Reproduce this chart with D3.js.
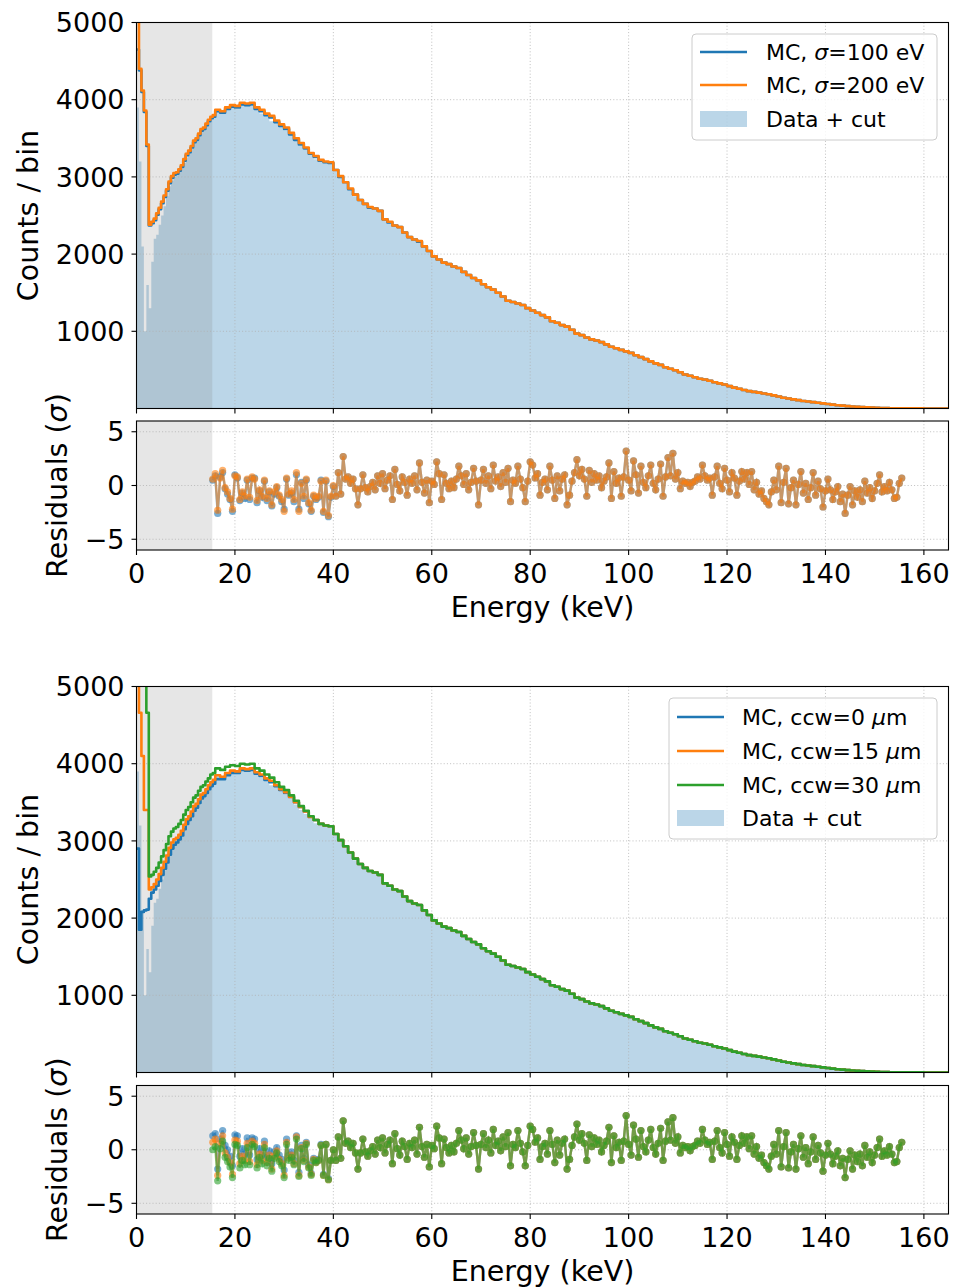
<!DOCTYPE html>
<html><head><meta charset="utf-8">
<script src="https://cdn.jsdelivr.net/npm/d3@7"></script>
<style>body{margin:0;background:#fff} svg{display:block;font-family:"DejaVu Sans",sans-serif}</style>
</head><body><svg id="c" width="958" height="1288"></svg>
<script>
// ---------------- DATA ----------------
// bin edges (keV): 0.5 keV bins below 16 keV, 1 keV bins above
const binEdges = d3.range(0, 16, 0.5).concat(d3.range(16, 166, 1));
const xTickValues = [0, 20, 40, 60, 80, 100, 120, 140, 160];
const countTickValues = [1000, 2000, 3000, 4000, 5000];
const residTickValues = [-5, 0, 5];
const cutEnergy = 15.4;

// Data + cut histogram (counts / bin)
const dataCounts = [
 3900,3200,2100,1000,1600,1300,1900,2200,2250,2380,2500,2620,2750,2880,2950,3000,
 3030,3080,3110,3180,3250,3320,3360,3440,3470,3540,3600,3610,3680,3700,3760,3780,
 3840,3830,3880,3900,3880,3930,3940,3920,3870,3820,3790,3720,3700,3660,3600,3550,3470,3400,3350,3290,
 3230,3200,3180,3180,3070,3000,2910,2840,2750,2690,2640,2600,2570,2550,2440,2400,2360,2330,2270,2210,
 2180,2150,2090,2030,1960,1930,1880,1860,1830,1810,1760,1720,1690,1650,1600,1570,1530,1490,1440,1390,
 1370,1350,1340,1300,1260,1240,1200,1170,1130,1100,1080,1050,1010,970,950,920,890,880,855,830,
 800,780,760,745,720,690,665,640,610,585,565,535,515,495,470,440,425,405,385,375,
 360,340,325,310,290,270,255,240,225,215,205,195,185,170,155,140,130,118,108,98,
 90,82,74,66,58,50,43,37,31,26,22,18,15,12,9,7,5,4,3,2,2,1,1,1,0,0,0,0,0
];

// Top panel MC curves
const mcSigma200 = [
 5600,4400,4120,3860,3420,2380,2420,2460,2530,2600,2680,2760,2840,2940,3010,3050,
 3060,3100,3150,3230,3300,3340,3400,3470,3500,3560,3620,3640,3690,3740,3780,3800,
 3870,3850,3900,3930,3920,3960,3950,3960,3900,3870,3820,3790,3730,3680,3640,3570,3500,3440,3380,3310,
 3270,3220,3200,3190,3090,3010,2930,2850,2770,2700,2650,2610,2590,2560,2450,2420,2370,2350,2280,2220,
 2190,2170,2100,2040,1970,1930,1890,1870,1840,1820,1770,1730,1690,1660,1610,1570,1540,1500,1450,1395,
 1380,1360,1340,1300,1270,1240,1210,1180,1130,1110,1080,1060,1020,970,950,920,895,880,860,830,
 800,780,760,740,720,690,665,640,610,585,565,535,515,495,470,440,425,405,385,375,
 360,340,325,310,290,270,255,240,225,215,205,195,185,170,155,140,130,118,108,98,
 90,82,74,66,58,50,43,37,31,26,22,18,15,12,9,7,5,4,3,2,2,1,1,1,0,0,0,0,0
];
const mcSigma100 = [
 4650,4380,4100,3840,3400,2370,2400,2440,2510,2580,2660,2740,2820,2920,2990,3030,
 3040,3080,3130,3210,3280,3320,3380,3450,3480,3540,3600,3620,3670,3720,3760,3780,
 3850,3830,3880,3910,3900,3940,3930,3940,3880,3850,3800,3770,3710,3660,3620,3550,3480,3420,3370,3300,
 3260,3210,3190,3180,3090,3000,2930,2840,2770,2700,2650,2600,2590,2560,2450,2410,2370,2350,2280,2220,
 2190,2160,2100,2040,1970,1930,1890,1870,1840,1820,1770,1730,1690,1660,1610,1570,1540,1500,1450,1395,
 1380,1360,1340,1300,1270,1240,1210,1180,1130,1110,1080,1060,1020,970,950,920,895,880,860,830,
 800,780,760,740,720,690,665,640,610,585,565,535,515,495,470,440,425,405,385,375,
 360,340,325,310,290,270,255,240,225,215,205,195,185,170,155,140,130,118,108,98,
 90,82,74,66,58,50,43,37,31,26,22,18,15,12,9,7,5,4,3,2,2,1,1,1,0,0,0,0,0
];

// Bottom panel MC curves
const mcCcw0 = [
 2900,1850,2080,2100,2110,2250,2330,2370,2420,2480,2560,2640,2720,2820,2900,2950,
 2980,3020,3070,3150,3220,3270,3320,3390,3430,3490,3550,3580,3620,3670,3710,3740,
 3800,3800,3850,3880,3880,3920,3910,3920,3870,3840,3790,3760,3710,3660,3620,3570,3500,3440,3380,3310,
 3270,3220,3200,3190,3090,3010,2930,2850,2770,2700,2650,2610,2590,2560,2450,2420,2370,2350,2280,2220,
 2190,2170,2100,2040,1970,1930,1890,1870,1840,1820,1770,1730,1690,1660,1610,1570,1540,1500,1450,1395,
 1380,1360,1340,1300,1270,1240,1210,1180,1130,1110,1080,1060,1020,970,950,920,895,880,860,830,
 800,780,760,740,720,690,665,640,610,585,565,535,515,495,470,440,425,405,385,375,
 360,340,325,310,290,270,255,240,225,215,205,195,185,170,155,140,130,118,108,98,
 90,82,74,66,58,50,43,37,31,26,22,18,15,12,9,7,5,4,3,2,2,1,1,1,0,0,0,0,0
];
const mcCcw15 = [
 5600,4660,4100,3400,3400,2370,2400,2440,2500,2570,2650,2730,2810,2910,2980,3020,
 3040,3080,3130,3210,3280,3320,3380,3450,3480,3540,3600,3620,3670,3720,3760,3790,
 3850,3830,3880,3910,3900,3940,3930,3940,3890,3860,3810,3780,3720,3670,3630,3570,3500,3440,3380,3310,
 3270,3220,3200,3190,3090,3010,2930,2850,2770,2700,2650,2610,2590,2560,2450,2420,2370,2350,2280,2220,
 2190,2170,2100,2040,1970,1930,1890,1870,1840,1820,1770,1730,1690,1660,1610,1570,1540,1500,1450,1395,
 1380,1360,1340,1300,1270,1240,1210,1180,1130,1110,1080,1060,1020,970,950,920,895,880,860,830,
 800,780,760,740,720,690,665,640,610,585,565,535,515,495,470,440,425,405,385,375,
 360,340,325,310,290,270,255,240,225,215,205,195,185,170,155,140,130,118,108,98,
 90,82,74,66,58,50,43,37,31,26,22,18,15,12,9,7,5,4,3,2,2,1,1,1,0,0,0,0,0
];
const mcCcw30 = [
 6000,6000,6000,6000,4660,2540,2560,2600,2650,2720,2800,2880,2960,3060,3120,3160,
 3180,3220,3270,3340,3400,3440,3500,3560,3590,3650,3700,3720,3770,3810,3860,3880,
 3940,3920,3960,3980,3970,4000,3990,4000,3940,3910,3860,3820,3760,3700,3660,3590,3520,3450,3390,3320,
 3270,3220,3200,3190,3090,3010,2930,2850,2770,2700,2650,2610,2590,2560,2450,2420,2370,2350,2280,2220,
 2190,2170,2100,2040,1970,1930,1890,1870,1840,1820,1770,1730,1690,1660,1610,1570,1540,1500,1450,1395,
 1380,1360,1340,1300,1270,1240,1210,1180,1130,1110,1080,1060,1020,970,950,920,895,880,860,830,
 800,780,760,740,720,690,665,640,610,585,565,535,515,495,470,440,425,405,385,375,
 360,340,325,310,290,270,255,240,225,215,205,195,185,170,155,140,130,118,108,98,
 90,82,74,66,58,50,43,37,31,26,22,18,15,12,9,7,5,4,3,2,2,1,1,1,0,0,0,0,0
];

// Residual energies (keV) and residuals (sigma): 15.5 .. 155.5 every 0.5 keV
const residEnergy = d3.range(15.5, 155.75, 0.5);
// 15.5 .. 40.0 keV, per series
const residHeadSigma100 = [0.5,0.9,-2.6,0.8,1.2,-0.3,-0.8,-1.3,-2.4,1.0, 0.7,-1.4,-0.7,-1.2,0.5,-1.3,0.7,0.7,-1.6,-0.5,
 -1.1,0.4,-1.4,-0.6,-1.9,-0.8,-0.2,-1.0,-1.5,-2.2, 0.6,-0.9,-0.7,-1.5,1.0,-2.2,0.3,-1.2,0.5,-1.7,
 -2.4,-1.0,-1.3,-1.1,0.5,-2.5,0.4,-2.9,-1.1,-0.1];
const residHeadSigma200 = [0.6,1.1,-2.3,0.7,1.4,-0.2,-0.6,-1.2,-2.2,0.9, 0.8,-1.3,-0.6,-1.0,0.6,-1.1,0.8,0.6,-1.4,-0.4,
 -1.0,0.5,-1.2,-0.5,-1.8,-0.6,-0.1,-0.9,-1.3,-2.4, 0.7,-0.8,-0.5,-1.3,1.2,-2.4,0.2,-1.0,0.6,-1.6,
 -2.3,-0.9,-1.2,-1.0,0.4,-2.4,0.5,-2.8,-1.0,0.0];
const residHeadCcw0 = [1.3,1.5,-1.8,1.0,1.8,0.4,0.0,-0.6,-1.5,1.4, 1.3,-0.6,0.1,-0.4,1.1,-0.5,1.1,1.0,-0.9,0.1,
 -0.5,0.8,-0.7,-0.1,-1.3,-0.2,0.2,-0.5,-0.9,-1.9, 1.0,-0.5,-0.2,-1.0,1.3,-2.1,0.4,-0.8,0.7,-1.4,
 -2.2,-0.8,-1.1,-0.9,0.5,-2.3,0.5,-2.7,-1.0,0.0];
const residHeadCcw15 = [0.7,1.0,-2.4,0.6,1.3,-0.3,-0.7,-1.2,-2.3,0.9, 0.8,-1.3,-0.6,-1.0,0.6,-1.1,0.8,0.6,-1.4,-0.4,
 -1.0,0.5,-1.2,-0.5,-1.8,-0.6,-0.1,-0.9,-1.3,-2.4, 0.7,-0.8,-0.5,-1.3,1.2,-2.4,0.2,-1.0,0.6,-1.6,
 -2.3,-0.9,-1.2,-1.0,0.4,-2.4,0.5,-2.8,-1.0,0.0];
const residHeadCcw30 = [0.0,0.3,-2.9,0.1,0.8,-0.7,-1.1,-1.6,-2.6,0.5, 0.4,-1.7,-1.0,-1.4,0.2,-1.4,0.5,0.3,-1.7,-0.7,
 -1.3,0.2,-1.5,-0.8,-2.0,-0.8,-0.3,-1.1,-1.5,-2.6, 0.5,-1.0,-0.7,-1.4,1.0,-2.5,0.1,-1.1,0.5,-1.7,
 -2.4,-1.0,-1.2,-1.0,0.4,-2.4,0.5,-2.8,-1.0,0.0];
// 40.5 .. 155.5 keV (same for all series)
const residTail = [
 -1.0,1.2,-0.8,2.7,0.6,0.8,0.2,0.6,-0.3,-1.8,
 -0.3,1.0,-0.2,-0.6,-0.1,0.3,-0.4,0.9,0.2,1.1, -0.3,0.5,0.9,-1.3,1.5,0.1,-0.5,0.8,0.3,-0.9,
 0.6,0.2,0.9,-0.4,2.1,0.3,-0.7,0.5,-1.6,0.4, 0.1,2.2,1.1,-1.3,1.0,0.2,-0.3,0.4,-0.2,0.6,
 1.8,0.9,0.1,1.1,-0.4,0.3,1.6,0.4,-1.8,0.5, 1.5,0.2,0.9,-0.3,1.9,0.4,0.8,-0.1,1.2,0.3,
 1.6,-1.5,0.5,0.2,1.8,0.6,-0.2,-1.5,0.4,2.2, 1.9,0.7,1.1,-0.9,0.3,0.6,-0.4,1.8,0.5,-1.2,
 0.9,-0.5,0.6,1.0,-1.8,-0.9,0.4,1.2,2.4,0.9, 1.5,0.6,-1.0,1.4,0.3,1.1,0.5,0.9,-0.2,0.4,
 0.8,2.1,-1.2,1.3,0.2,0.7,-1.0,0.8,3.2,0.5, -0.5,2.3,1.0,-0.7,1.8,0.3,-0.2,0.9,1.9,0.2,
 -0.4,0.6,2.0,-1.0,0.8,2.6,0.9,3.0,0.6,1.2, -0.3,0.4,0.2,0.3,-0.1,0.3,0.4,0.8,0.6,1.9,
 0.9,0.5,0.7,-0.9,0.8,1.8,0.2,-0.3,1.6,0.5, -0.6,1.2,0.7,-0.9,0.4,1.3,0.6,1.2,0.1,1.3,
 -0.4,0.3,-0.8,-0.5,-1.2,-1.5,-1.8,-0.6,0.5,-0.4, 1.8,-1.6,0.3,1.6,-1.7,-0.2,0.5,-1.8,0.1,1.3,
 -0.7,0.2,-1.3,-0.2,1.2,-0.9,0.4,-0.3,-2.0,-0.5, 0.6,-0.4,-1.3,-0.6,-0.1,-1.5,-0.8,-2.6,-0.9,-0.1,
 -1.8,-0.5,-1.1,-0.4,-1.5,0.4,-0.7,-0.2,-1.2,-0.5, 0.2,1.0,-0.6,-0.1,-0.5,0.3,-0.4,-1.2,-1.1,0.2,0.7
];

const seriesTop = [
  {label: ["MC, ", "σ", "=100 eV"], color: "#1f77b4", mc: mcSigma100, resid: residHeadSigma100.concat(residTail)},
  {label: ["MC, ", "σ", "=200 eV"], color: "#ff7f0e", mc: mcSigma200, resid: residHeadSigma200.concat(residTail)}
];
const seriesBottom = [
  {label: ["MC, ccw=0 ", "μ", "m"], color: "#1f77b4", mc: mcCcw0, resid: residHeadCcw0.concat(residTail)},
  {label: ["MC, ccw=15 ", "μ", "m"], color: "#ff7f0e", mc: mcCcw15, resid: residHeadCcw15.concat(residTail)},
  {label: ["MC, ccw=30 ", "μ", "m"], color: "#2ca02c", mc: mcCcw30, resid: residHeadCcw30.concat(residTail)}
];

// ---------------- DRAWING ----------------
const svg = d3.select("#c");
const X0 = 136.5, X1 = 948.5;
const x = d3.scaleLinear().domain([0, 165]).range([X0, X1]);
const TICK_FS = 27, LABEL_FS = 28.5, LEG_FS = 22;
let clipId = 0;

function stepPoints(vals) {
  const pts = vals.map((v, i) => [binEdges[i], v]);
  pts.push([binEdges[vals.length], vals[vals.length - 1]]);
  return pts;
}

function gridAndFrame(g, y, top, bot, yTicks) {
  const grid = g.append("g").attr("stroke", "#b0b0b0").attr("stroke-width", 0.8).attr("stroke-dasharray", "1,2.2");
  xTickValues.forEach(t => grid.append("line").attr("x1", x(t)).attr("x2", x(t)).attr("y1", top).attr("y2", bot));
  yTicks.forEach(t => grid.append("line").attr("x1", X0).attr("x2", X1).attr("y1", y(t)).attr("y2", y(t)));
}

function frameAndTicks(g, y, top, bot, yTicks, yFmt, xLabels) {
  g.append("rect").attr("x", X0).attr("y", top).attr("width", X1 - X0).attr("height", bot - top)
    .attr("fill", "none").attr("stroke", "#000").attr("stroke-width", 1.1);
  const tk = g.append("g").attr("stroke", "#000").attr("stroke-width", 1.1);
  xTickValues.forEach(t => tk.append("line").attr("x1", x(t)).attr("x2", x(t)).attr("y1", bot).attr("y2", bot + 5));
  yTicks.forEach(t => tk.append("line").attr("x1", X0 - 5).attr("x2", X0).attr("y1", y(t)).attr("y2", y(t)));
  yTicks.forEach(t => g.append("text").attr("x", X0 - 12).attr("y", y(t)).attr("dy", "0.36em")
    .attr("text-anchor", "end").attr("font-size", TICK_FS).text(yFmt(t)));
  if (xLabels) {
    xTickValues.forEach(t => g.append("text").attr("x", x(t)).attr("y", bot + 33)
      .attr("text-anchor", "middle").attr("font-size", TICK_FS).text(t));
  }
}

function clipRect(top, bot) {
  const id = "clip" + (clipId++);
  svg.append("clipPath").attr("id", id).append("rect")
    .attr("x", X0).attr("y", top).attr("width", X1 - X0).attr("height", bot - top);
  return "url(#" + id + ")";
}

function drawPanel(cfg) {
  const {mainTop, mainBot, resTop, resBot, series, legend} = cfg;
  // ---- main histogram ----
  const y = d3.scaleLinear().domain([0, 5000]).range([mainBot, mainTop]);
  const g = svg.append("g");
  const clip = clipRect(mainTop, mainBot);
  const area = d3.area().x(d => x(d[0])).y0(y(0)).y1(d => y(d[1])).curve(d3.curveStepAfter);
  g.append("path").attr("clip-path", clip).attr("d", area(stepPoints(dataCounts)))
    .attr("fill", "#1f77b4").attr("fill-opacity", 0.3);
  g.append("rect").attr("x", x(0)).attr("y", mainTop).attr("width", x(cutEnergy) - x(0)).attr("height", mainBot - mainTop)
    .attr("fill", "#808080").attr("fill-opacity", 0.2);
  gridAndFrame(g, y, mainTop, mainBot, countTickValues);
  const line = d3.line().x(d => x(d[0])).y(d => y(d[1])).curve(d3.curveStepAfter);
  series.forEach(s => g.append("path").attr("clip-path", clip).attr("d", line(stepPoints(s.mc)))
    .attr("fill", "none").attr("stroke", s.color).attr("stroke-width", 2.6).attr("stroke-linejoin", "round"));
  frameAndTicks(g, y, mainTop, mainBot, countTickValues, d => d, false);
  g.append("text").attr("transform", `translate(${cfg.yLabX},${(mainTop + mainBot) / 2}) rotate(-90)`)
    .attr("text-anchor", "middle").attr("font-size", LABEL_FS).text("Counts / bin");

  // ---- legend ----
  const L = legend;
  const lg = g.append("g");
  lg.append("rect").attr("x", L.x).attr("y", L.y).attr("width", L.w).attr("height", L.h).attr("rx", 4)
    .attr("fill", "#fff").attr("fill-opacity", 0.8).attr("stroke", "#cccccc").attr("stroke-width", 1);
  series.forEach((s, i) => {
    const cy = L.rows[i];
    lg.append("line").attr("x1", L.hx).attr("x2", L.hx + 47).attr("y1", cy).attr("y2", cy)
      .attr("stroke", s.color).attr("stroke-width", 2.4);
    const t = lg.append("text").attr("x", L.tx).attr("y", cy).attr("dy", "0.36em").attr("font-size", LEG_FS);
    t.append("tspan").text(s.label[0]);
    t.append("tspan").attr("font-style", "italic").text(s.label[1]);
    t.append("tspan").text(s.label[2]);
  });
  const dy = L.rows[series.length];
  lg.append("rect").attr("x", L.hx).attr("y", dy - 8).attr("width", 47).attr("height", 16)
    .attr("fill", "#1f77b4").attr("fill-opacity", 0.3);
  lg.append("text").attr("x", L.tx).attr("y", dy).attr("dy", "0.36em").attr("font-size", LEG_FS).text("Data + cut");

  // ---- residuals ----
  const yr = d3.scaleLinear().domain([-6, 6]).range([resBot, resTop]);
  const gr = svg.append("g");
  const rclip = clipRect(resTop, resBot);
  gr.append("rect").attr("x", x(0)).attr("y", resTop).attr("width", x(cutEnergy) - x(0)).attr("height", resBot - resTop)
    .attr("fill", "#808080").attr("fill-opacity", 0.2);
  gridAndFrame(gr, yr, resTop, resBot, residTickValues);
  const rline = d3.line().x(d => x(d[0])).y(d => yr(d[1]));
  series.forEach(s => {
    const pts = residEnergy.map((e, i) => [e, s.resid[i]]);
    const sg = gr.append("g").attr("clip-path", rclip);
    sg.append("path").attr("d", rline(pts)).attr("fill", "none").attr("stroke", s.color)
      .attr("stroke-opacity", 0.55).attr("stroke-width", 2.4);
    sg.selectAll("circle").data(pts).join("circle").attr("cx", d => x(d[0])).attr("cy", d => yr(d[1]))
      .attr("r", 3.6).attr("fill", s.color).attr("fill-opacity", 0.6);
  });
  frameAndTicks(gr, yr, resTop, resBot, residTickValues, d => d < 0 ? "\u2212" + Math.abs(d) : String(d), true);
  gr.append("text").attr("transform", `translate(${cfg.rLabX},${(resTop + resBot) / 2}) rotate(-90)`)
    .attr("text-anchor", "middle").attr("font-size", LABEL_FS)
    .call(t => { t.append("tspan").text("Residuals ("); t.append("tspan").attr("font-style", "italic").text("σ"); t.append("tspan").text(")"); });
  gr.append("text").attr("x", (X0 + X1) / 2).attr("y", resBot + 67).attr("text-anchor", "middle")
    .attr("font-size", LABEL_FS).text("Energy (keV)");
}

drawPanel({
  mainTop: 22.5, mainBot: 408.5, resTop: 421, resBot: 550, series: seriesTop, yLabX: 37.5, rLabX: 67,
  legend: {x: 692, y: 34, w: 245, h: 106, hx: 700, tx: 766, rows: [52, 85, 119]}
});
drawPanel({
  mainTop: 686.5, mainBot: 1072.5, resTop: 1085.5, resBot: 1214, series: seriesBottom, yLabX: 37.5, rLabX: 67,
  legend: {x: 669, y: 698, w: 268, h: 141, hx: 677, tx: 742, rows: [717, 751, 785, 818]}
});
</script></body></html>
